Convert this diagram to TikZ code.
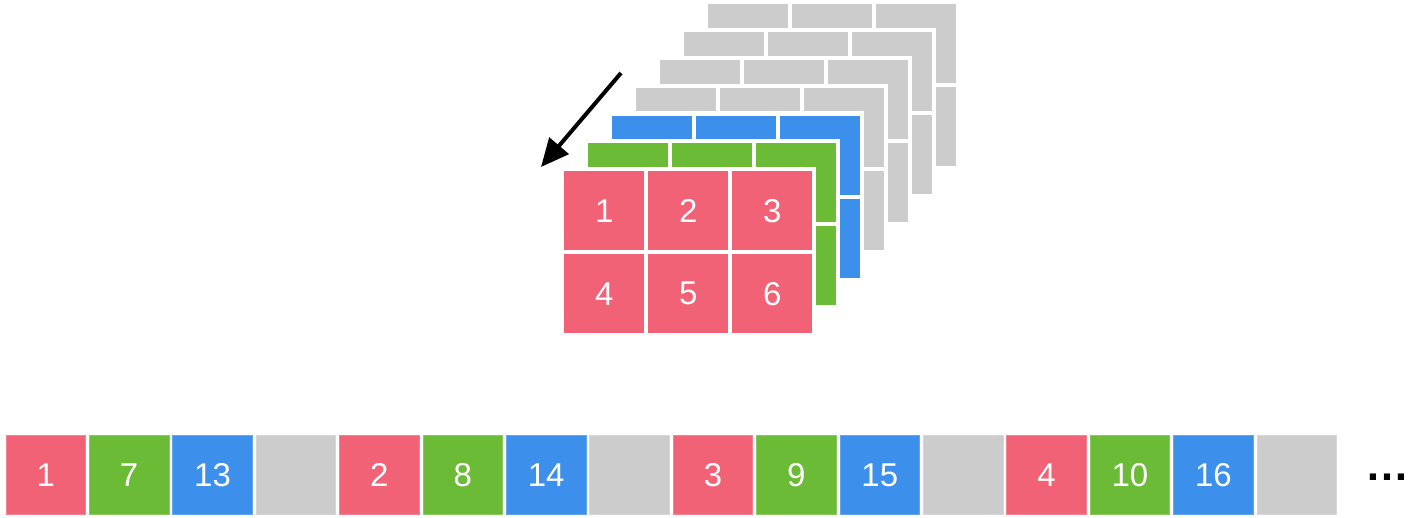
\documentclass[tikz,border=0pt]{standalone}
\usepackage{fontspec}
\setmainfont{Liberation Sans}
\usetikzlibrary{arrows.meta}
\definecolor{cpink}{HTML}{F26277}
\definecolor{cgreen}{HTML}{6BBB37}
\definecolor{cblue}{HTML}{3D8FEC}
\definecolor{cgray}{HTML}{CCCCCC}
\begin{document}
\begin{tikzpicture}[x=1pt,y=-1pt,
  cell/.style={inner sep=0pt, minimum width=80pt, minimum height=79pt, anchor=north west,
    text=white, font=\fontsize{33}{33}\selectfont},
  flatcell/.style={inner sep=0pt, minimum width=79.5pt, minimum height=78.5pt, anchor=north west,
    text=white, font=\fontsize{33}{33}\selectfont},
  halo/.style={fill=white},
  arrowline/.style={line width=4pt, -{Triangle[length=28pt,width=25pt]}}]
\useasboundingbox (0,0) rectangle (1420,518);
% stacked layers, back to front
\foreach \k/\col in {6/cgray,5/cgray,4/cgray,3/cgray,2/cblue,1/cgreen,0/cpink}{
  \pgfmathsetmacro\xo{564+24*\k}
  \pgfmathsetmacro\yo{171-27.8*\k}
  \fill[halo] (\xo-4,\yo-4) rectangle (\xo+252,\yo+166);
  \foreach \i in {0,1,2}{
    \foreach \j in {0,1}{
      \pgfmathtruncatemacro\n{\i+1+3*\j}
      \node[cell, fill=\col] (L\k c\i\j) at (\xo+84*\i,\yo+83*\j) {\ifnum\k=0 \n\fi};
    }
  }
}
% arrow
\coordinate (as) at (621,73);
\coordinate (ae) at (541,167);
\draw[arrowline] (as) -- (ae);
% flat row
\foreach \i/\col/\t in {0/cpink/1,1/cgreen/7,2/cblue/13,3/cgray/,
  4/cpink/2,5/cgreen/8,6/cblue/14,7/cgray/,
  8/cpink/3,9/cgreen/9,10/cblue/15,11/cgray/,
  12/cpink/4,13/cgreen/10,14/cblue/16,15/cgray/}{
  \node[flatcell, fill=\col, draw=\col!80!white, line width=0.8pt] (B\i) at (5.6+83.4*\i,435.4) {\t};
}
\node[anchor=base, inner sep=0pt, font=\bfseries\fontsize{44}{44}\selectfont] (dots) at (1387,480) {…};
\end{tikzpicture}
\end{document}
